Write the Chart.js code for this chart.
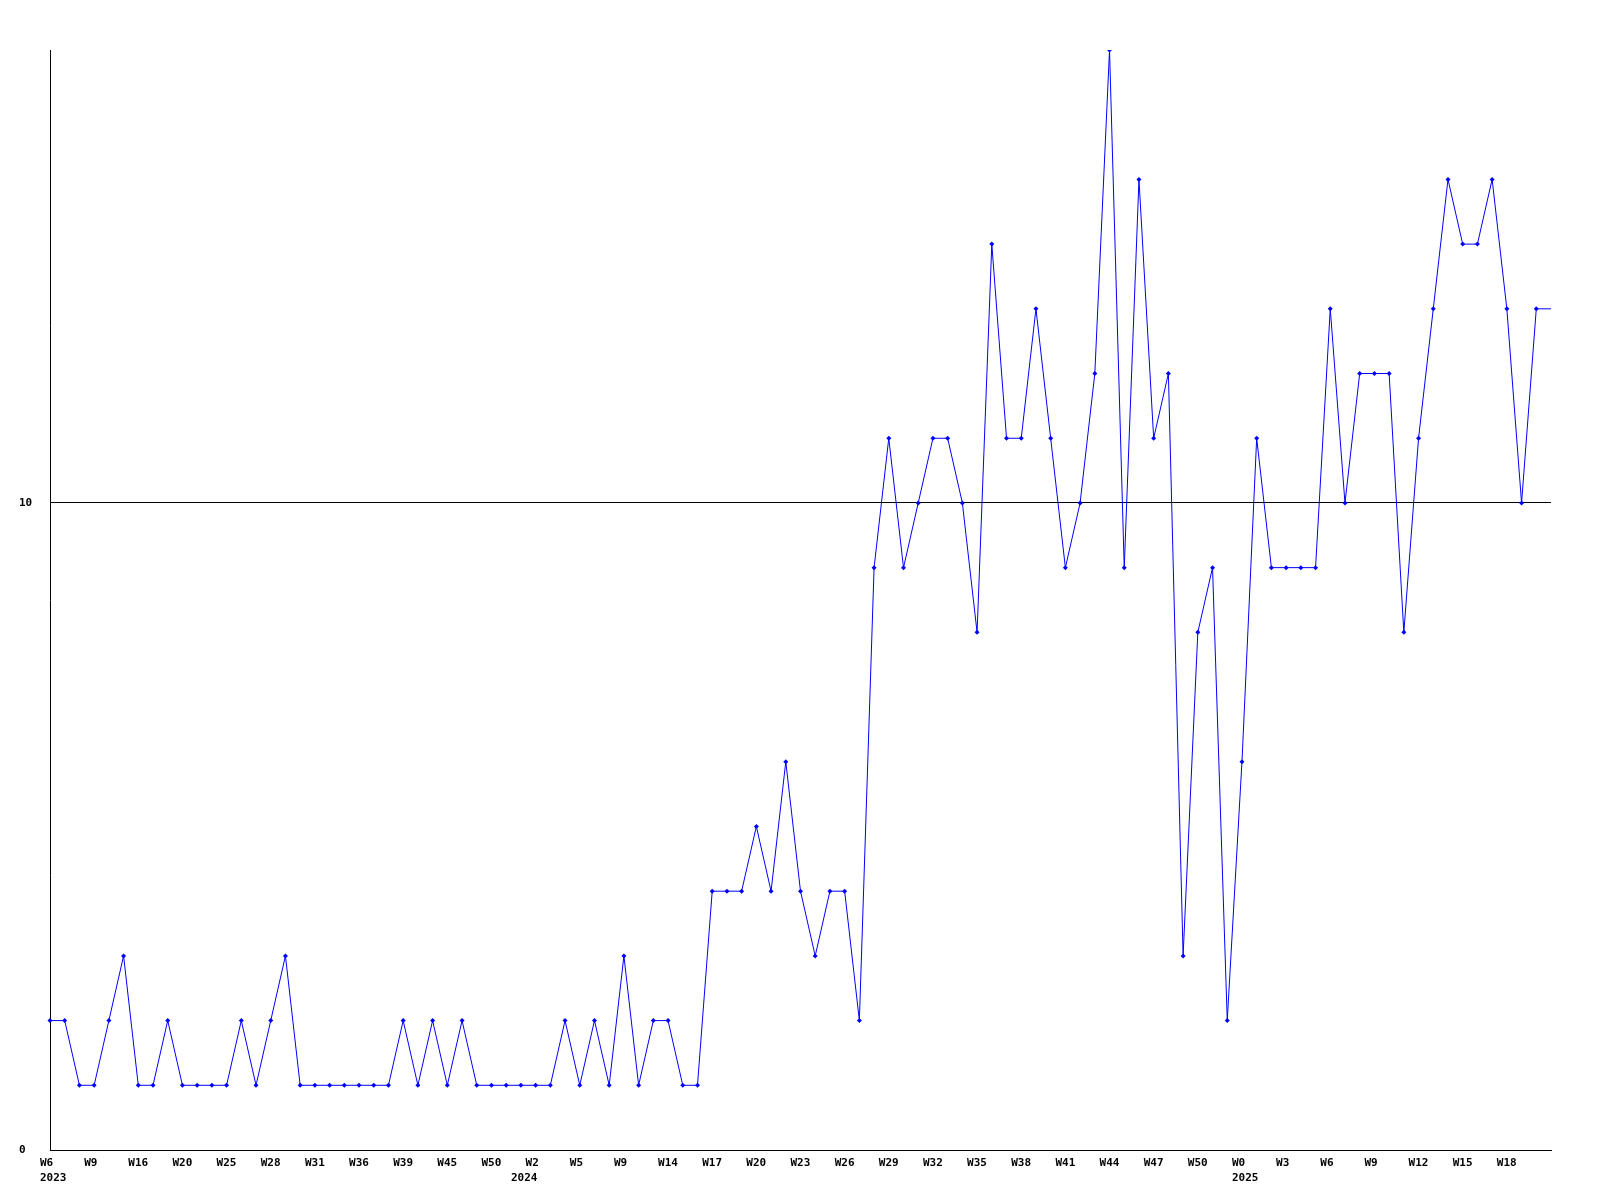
<!DOCTYPE html>
<html>
<head>
<meta charset="utf-8">
<script src="https://cdn.jsdelivr.net/npm/chart.js@4"></script>
<style>
    body { margin: 0; background: #ffffff; }
</style>
</head>
<body>
<canvas id="weekChart" width="1600" height="1200"></canvas>
<script>
// one week label every 3 samples
const tickLabels = [
    'W6', 'W9', 'W16', 'W20', 'W25', 'W28', 'W31', 'W36', 'W39', 'W45', 'W50',
    'W2', 'W5', 'W9', 'W14', 'W17', 'W20', 'W23', 'W26', 'W29', 'W32', 'W35', 'W38',
    'W41', 'W44', 'W47', 'W50',
    'W0', 'W3', 'W6', 'W9', 'W12', 'W15', 'W18',
];

// year goes under the first sample of each year
const years = ['2023', '2024', '2025'];
const yearStart = [0, 32, 81];

const counts = [
    2, 2, 1, 1, 2, 3, 1, 1, 2, 1,
    1, 1, 1, 2, 1, 2, 3, 1, 1, 1,
    1, 1, 1, 1, 2, 1, 2, 1, 2, 1,
    1, 1, 1, 1, 1, 2, 1, 2, 1, 3,
    1, 2, 2, 1, 1, 4, 4, 4, 5, 4,
    6, 4, 3, 4, 4, 2, 9, 11, 9, 10,
    11, 11, 10, 8, 14, 11, 11, 13, 11, 9,
    10, 12, 17, 9, 15, 11, 12, 3, 8, 9,
    2, 6, 11, 9, 9, 9, 9, 13, 10, 12,
    12, 12, 8, 11, 13, 15, 14, 14, 15, 13,
    10, 13, 13,
];

const yTicks = [0, 10];

const labels = counts.map(function (v, i) {
    const week = i % 3 === 0 && tickLabels[i / 3] ? tickLabels[i / 3] : '';
    const y = yearStart.indexOf(i);
    if (y >= 0) {
        return [week, years[y]];
    }
    return week;
});

const ctx = document.getElementById('weekChart');
const labelFont = { family: 'DejaVu Sans Mono', size: 11, weight: 'bold', lineHeight: 1.35 };

new Chart(ctx, {
    type: 'line',
    data: {
        labels: labels,
        datasets: [
            {
                data: counts,
                borderColor: 'rgb(0, 0, 255)',
                backgroundColor: 'rgb(0, 0, 255)',
                borderWidth: 1,
                tension: 0,
                fill: false,
                pointStyle: 'rectRot',
                pointRadius: function (c) {
                    return c.dataIndex === counts.length - 1 ? 0 : 2.5;
                },
                pointBorderWidth: 0,
            },
        ],
    },
    options: {
        responsive: false,
        animation: false,
        layout: {
            padding: { left: 19, top: 50, right: 49, bottom: 0 },
        },
        plugins: {
            legend: { display: false },
            tooltip: { enabled: false },
        },
        scales: {
            x: {
                offset: false,
                grid: { display: false, drawTicks: false },
                border: { display: true, color: '#000000', width: 1 },
                ticks: {
                    autoSkip: false,
                    maxRotation: 0,
                    minRotation: 0,
                    align: 'start',
                    labelOffset: -10,
                    padding: 6,
                    color: '#000000',
                    font: labelFont,
                },
                afterFit: function (scale) {
                    scale.height = 50;
                },
            },
            y: {
                min: 0,
                max: 17,
                grid: {
                    color: '#000000',
                    lineWidth: 1,
                    drawTicks: false,
                },
                border: { display: true, color: '#000000', width: 1 },
                ticks: {
                    crossAlign: 'far',
                    padding: 0,
                    color: '#000000',
                    font: labelFont,
                },
                afterBuildTicks: function (scale) {
                    scale.ticks = yTicks.map(function (v) {
                        return { value: v };
                    });
                },
                afterFit: function (scale) {
                    scale.width = 31;
                },
            },
        },
    },
});
</script>
</body>
</html>
